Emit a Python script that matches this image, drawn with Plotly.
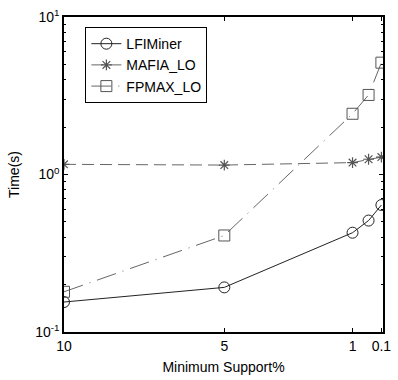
import plotly.graph_objects as go

support = [10, 5, 1, 0.5, 0.1]
lfiminer = [0.155, 0.192, 0.427, 0.51, 0.64]
mafia_lo = [1.16, 1.148, 1.19, 1.25, 1.29]
fpmax_lo = [0.18, 0.41, 2.43, 3.2, 5.13]

x_tickvals = [10, 5, 1, 0.1]
x_ticktext = ["10", "5", "1", "0.1"]
y_tickvals = [0.1, 1, 10]
y_ticktext = ["10<sup>-1</sup>", "10<sup>0</sup>", "10<sup>1</sup>"]
y_minor = [0.2, 0.3, 0.4, 0.5, 0.6, 0.7, 0.8, 0.9, 2, 3, 4, 5, 6, 7, 8, 9]

fig = go.Figure()
fig.add_trace(go.Scatter(
    x=support, y=lfiminer, name="LFIMiner", mode="lines+markers",
    line=dict(color="#222222", width=1),
    marker=dict(symbol="circle-open", size=11, color="#222222", line=dict(width=1))))
fig.add_trace(go.Scatter(
    x=support, y=mafia_lo, name="MAFIA_LO", mode="lines+markers",
    line=dict(color="#666666", width=1, dash="12px,6px"),
    marker=dict(symbol="asterisk-open", size=9, color="#555555", line=dict(width=1.2))))
fig.add_trace(go.Scatter(
    x=support, y=fpmax_lo, name="FPMAX_LO", mode="lines+markers",
    line=dict(color="#666666", width=1, dash="20px,7px,1px,7px"),
    marker=dict(symbol="square-open", size=11, color="#555555", line=dict(width=1))))

axis_common = dict(showline=True, linecolor="black", linewidth=1.5, mirror="allticks",
                   ticks="inside", ticklen=4, tickcolor="black", showgrid=False,
                   zeroline=False, tickfont=dict(size=14, color="black"))

fig.update_layout(
    width=398, height=380,
    margin=dict(l=64, r=7, t=16, b=48),
    paper_bgcolor="white", plot_bgcolor="white",
    font=dict(family="Liberation Sans, Arial, sans-serif", size=14, color="black"),
    showlegend=True,
    legend=dict(x=0.067, y=0.968, xanchor="left", yanchor="top",
                bordercolor="black", borderwidth=1, bgcolor="white",
                font=dict(size=14), tracegroupgap=0),
    xaxis=dict(range=[10, 0.05], tickmode="array", tickvals=x_tickvals, ticktext=x_ticktext,
               title=dict(text="Minimum Support%", standoff=10, font=dict(size=14)), **axis_common),
    yaxis=dict(type="log", range=[-1, 1], tickmode="array", tickvals=y_tickvals, ticktext=y_ticktext,
               minor=dict(ticks="inside", ticklen=2, tickcolor="black", tickmode="array", tickvals=y_minor),
               title=dict(text="Time(s)", standoff=12, font=dict(size=14)), **axis_common),
)

fig.write_html("out.html")
